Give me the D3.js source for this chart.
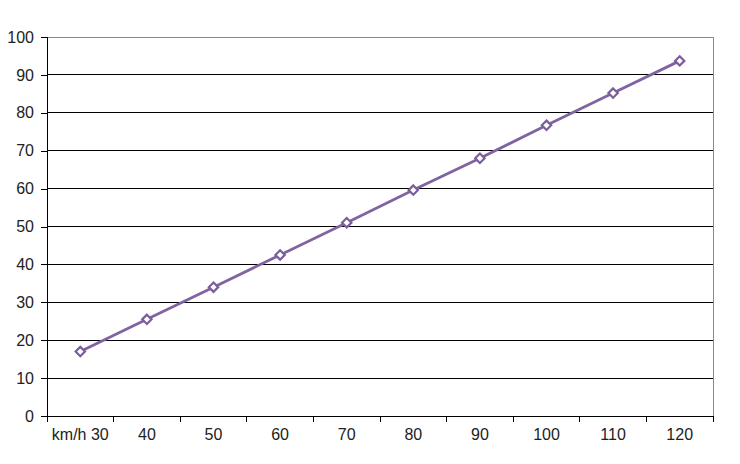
<!DOCTYPE html>
<html><head><meta charset="utf-8">
<script src="https://cdn.jsdelivr.net/npm/d3@7"></script>
<style>body{margin:0;background:#fff}svg{display:block}</style>
</head><body>
<svg id="c" width="740" height="464"></svg>
<script>
const categories = ["km/h 30","40","50","60","70","80","90","100","110","120"];
const values = [17, 25.5, 34, 42.5, 51, 59.6, 68, 76.7, 85.2, 93.7];
const yTicks = [0,10,20,30,40,50,60,70,80,90,100];

const svg = d3.select("#c");
const L = 47, R = 713, T = 37, B = 416;
const x = d3.scaleBand().domain(categories).range([L, R]);
const y = d3.scaleLinear().domain([0, 100]).range([B, T]);
const font = "Liberation Sans, Arial, sans-serif";

// gridlines
svg.append("g").selectAll("line").data(yTicks.filter(d => d > 0)).join("line")
  .attr("x1", L).attr("x2", R).attr("y1", d => y(d)).attr("y2", d => y(d))
  .attr("stroke", d => d === 100 ? "#888" : "#000").attr("stroke-width", 1)
  .attr("shape-rendering", "crispEdges");
// right border
svg.append("line").attr("x1", R).attr("x2", R).attr("y1", T).attr("y2", B)
  .attr("stroke", "#888").attr("shape-rendering", "crispEdges");

// y axis
const ya = svg.append("g").attr("transform", `translate(${L},0)`)
  .call(d3.axisLeft(y).tickValues(yTicks).tickSize(6).tickPadding(7));
ya.select(".domain").attr("stroke", "#000").attr("shape-rendering", "crispEdges");
ya.selectAll(".tick line").attr("stroke", "#000").attr("shape-rendering", "crispEdges");
ya.selectAll("text").attr("font-family", font).attr("font-size", 16).attr("fill", "#222");

// x axis
const xa = svg.append("g").attr("transform", `translate(0,${B})`)
  .call(d3.axisBottom(x).tickSize(0).tickPadding(13));
xa.select(".domain").attr("stroke", "#000").attr("shape-rendering", "crispEdges");
xa.selectAll("text").attr("font-family", font).attr("font-size", 16).attr("fill", "#222");
// boundary ticks
const bounds = categories.map(c => x(c)).concat([R]);
svg.append("g").selectAll("line").data(bounds).join("line")
  .attr("x1", d => d).attr("x2", d => d).attr("y1", B).attr("y2", B + 6)
  .attr("stroke", "#000").attr("shape-rendering", "crispEdges");

// line
const cx = (d, i) => x(categories[i]) + x.bandwidth() / 2;
const line = d3.line().x((d, i) => cx(d, i)).y(d => y(d));
svg.append("path").datum(values).attr("d", line)
  .attr("fill", "none").attr("stroke", "#8064A2").attr("stroke-width", 2.8);

// markers
svg.append("g").selectAll("path").data(values).join("path")
  .attr("d", d3.symbol().type(d3.symbolDiamond2).size(56))
  .attr("transform", (d, i) => `translate(${cx(d, i)},${y(d)})`)
  .attr("fill", "#fff").attr("stroke", "#7A5E9C").attr("stroke-width", 2.2);
</script>
</body></html>
